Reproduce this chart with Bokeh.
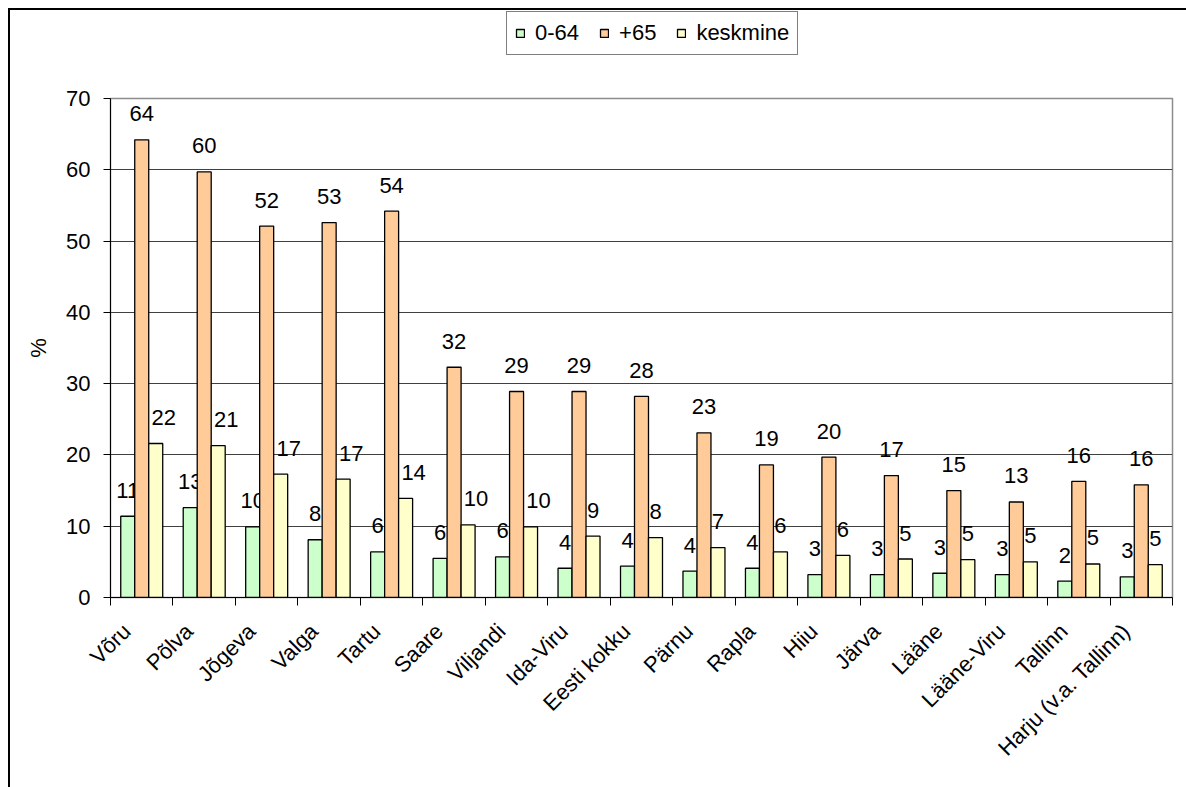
import math
import numpy as np
from bokeh.plotting import figure
from bokeh.layouts import column
from bokeh.models import (ColumnDataSource, FixedTicker, Range1d, Legend, LegendItem)
from bokeh.core.properties import value
from bokeh.embed import file_html
from bokeh.resources import INLINE

# ---- data ----
regions = ["Võru", "Põlva", "Jõgeva", "Valga", "Tartu", "Saare", "Viljandi",
           "Ida-Viru", "Eesti kokku", "Pärnu", "Rapla", "Hiiu", "Järva",
           "Lääne", "Lääne-Viru", "Tallinn", "Harju (v.a. Tallinn)"]
age_0_64 = [11.4, 12.6, 9.9, 8.1, 6.4, 5.5, 5.7, 4.1, 4.4, 3.7, 4.1, 3.2, 3.2, 3.4, 3.2, 2.3, 2.9]
age_65 = [64.2, 59.7, 52.1, 52.6, 54.2, 32.3, 28.9, 28.9, 28.2, 23.1, 18.6, 19.7, 17.1, 15.0, 13.4, 16.3, 15.8]
keskmine = [21.6, 21.3, 17.3, 16.6, 13.9, 10.2, 9.9, 8.6, 8.4, 7.0, 6.4, 5.9, 5.4, 5.3, 5.0, 4.7, 4.6]
series_names = ["0-64", "+65", "keskmine"]
series_values = [age_0_64, age_65, keskmine]
series_colors = ["#CCFFCC", "#FFCC99", "#FFFFCC"]
y_ticks = [0, 10, 20, 30, 40, 50, 60, 70]

FONT = "Liberation Sans"
FS = "22px"

n = len(regions)
centers = np.arange(1, n + 1)
bw = 0.224
offsets = [-bw, 0.0, bw]
label_shift = 0.24
# two-digit labels of the right-hand bar are nudged right (clear of the tall bar)
nudge = [0, 0, 8]

LEG_H = 84

sources = []
for vals, off, ng in zip(series_values, offsets, nudge):
    labs = [f"{v:.0f}" for v in vals]
    sources.append(ColumnDataSource(dict(
        x=centers + off, top=vals, lab=labs,
        xo=[ng if len(s) > 1 else 0 for s in labs])))

# ---- legend strip ----
lf = figure(width=1186, height=LEG_H, output_backend="svg", toolbar_location=None,
            x_range=Range1d(0.5, n + 0.5), y_range=Range1d(100, 170), min_border=0)
lf.axis.visible = False
lf.grid.visible = False
lf.outline_line_color = None
lf.border_fill_color = None
lf.background_fill_color = None
lf.styles = {"box-shadow": "inset 8px 8px 0 0 white, inset 10px 10px 0 0 black"}
leg_items = []
for name, col, src in zip(series_names, series_colors, sources):
    r = lf.vbar(x="x", top="top", bottom=0, width=bw, source=src,
                fill_color=col, line_color="black", line_width=1.3,
                muted_fill_alpha=0.0, muted_line_alpha=0.0)
    r.muted = True
    leg_items.append(LegendItem(label=name, renderers=[r]))
legend = Legend(items=leg_items, orientation="horizontal", location=(396, 29),
                glyph_width=10, glyph_height=10, label_standoff=10, spacing=20,
                padding=8, margin=0, click_policy="none",
                label_text_font=FONT, label_text_font_size=FS,
                label_text_color="black",
                border_line_color="black", border_line_width=1.5,
                background_fill_color="white", background_fill_alpha=1.0)
lf.add_layout(legend, "center")

# ---- main chart ----
p = figure(width=1186, height=787 - LEG_H, output_backend="svg", toolbar_location=None,
           x_range=Range1d(0.5, n + 0.5), y_range=Range1d(0, 70),
           min_border_left=110, min_border_right=14, min_border_top=98 - LEG_H,
           min_border_bottom=190)
p.border_fill_color = None
p.background_fill_color = "white"
p.outline_line_color = "#8c8c8c"
p.outline_line_width = 1.5
p.styles = {"box-shadow": "inset 8px 0 0 0 white, inset 10px 0 0 0 black"}

for col, src in zip(series_colors, sources):
    p.vbar(x="x", top="top", bottom=0, width=bw, source=src,
           fill_color=col, line_color="black", line_width=1.3)
    p.text(x="x", y="top", text="lab", source=src, text_align="center",
           text_baseline="alphabetic", y_offset=-26, x_offset="xo",
           text_font=value(FONT), text_font_size=FS, text_color="black")

label_pos = [float(c) - label_shift for c in centers]
p.xaxis.ticker = FixedTicker(ticks=label_pos,
                             minor_ticks=list(np.arange(0.5, n + 1, 1.0)))
p.xaxis.major_label_overrides = {lp: r for lp, r in zip(label_pos, regions)}
p.xaxis.major_label_orientation = math.pi / 4
p.xaxis.major_tick_out = 0
p.xaxis.major_tick_in = 0
p.xaxis.minor_tick_out = 8
p.xaxis.minor_tick_in = 0
p.xaxis.minor_tick_line_color = "black"
p.xaxis.major_label_standoff = 22
p.xaxis.major_label_text_font = FONT
p.xaxis.major_label_text_font_size = FS
p.xaxis.major_label_text_color = "black"
p.xaxis.axis_line_color = "black"

p.yaxis.ticker = FixedTicker(ticks=y_ticks)
p.yaxis.minor_tick_line_color = None
p.yaxis.major_tick_out = 7
p.yaxis.major_tick_in = 0
p.yaxis.major_label_standoff = 13
p.yaxis.major_label_text_font = FONT
p.yaxis.major_label_text_font_size = FS
p.yaxis.major_label_text_color = "black"
p.yaxis.axis_label = "%"
p.yaxis.axis_label_text_font = FONT
p.yaxis.axis_label_text_font_size = FS
p.yaxis.axis_label_text_font_style = "normal"
p.yaxis.axis_label_text_color = "black"
p.yaxis.axis_label_standoff = 12
p.yaxis.axis_line_color = "black"

p.xgrid.grid_line_color = None
p.ygrid.grid_line_color = "#404040"
p.ygrid.grid_line_width = 1

layout = column(lf, p, spacing=0)
open("out.html", "w").write(file_html(layout, INLINE))
